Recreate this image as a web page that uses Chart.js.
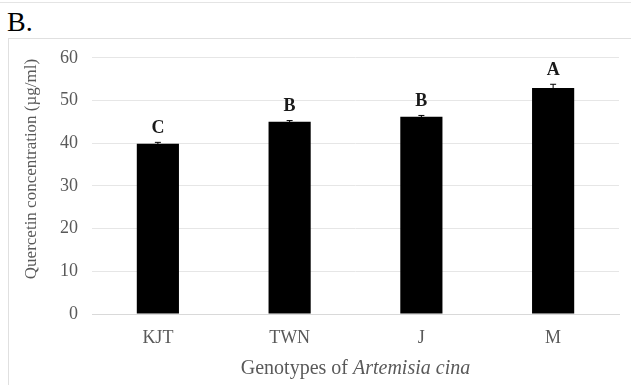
<!DOCTYPE html>
<html>
<head>
<meta charset="utf-8">
<script src="https://cdn.jsdelivr.net/npm/chart.js@4/dist/chart.umd.min.js"></script>
<style>
  body { margin: 0; background: #fff; width: 631px; height: 385px; overflow: hidden; position: relative; }
  #topline { position: absolute; left: 0; top: 2px; width: 631px; height: 1px; background: #e4e4e4; }
  #panel { position: absolute; left: 7px; top: 6px; font-family: "Liberation Serif", "Times New Roman", serif; font-size: 28px; color: #000; }
  #box { position: absolute; left: 8px; top: 38px; width: 623px; height: 347px; border-left: 1px solid #e0e0e0; border-top: 1px solid #e0e0e0; }
  #box canvas { display: block; margin-top: -6px; }
</style>
</head>
<body>
<div id="topline"></div>
<div id="panel">B.</div>
<div id="box"><canvas id="chart" width="622" height="352"></canvas></div>
<script>
const genotypes = ["KJT", "TWN", "J", "M"];
const quercetin = [39.9, 45.0, 46.2, 52.9];
const errors = [0.3, 0.3, 0.3, 0.9];
const letters = ["C", "B", "B", "A"];
const yTicks = [0, 10, 20, 30, 40, 50, 60];

const serif = '"Liberation Serif", "Times New Roman", serif';
const gray = "#595959";

// error bars, significance letters and both axis titles
const annotate = {
    id: "annotate",
    afterDatasetsDraw(chart) {
        const ctx = chart.ctx;
        const x = chart.scales.x;
        const y = chart.scales.y;
        ctx.save();
        genotypes.forEach((g, i) => {
            const cx = x.getPixelForValue(i);
            const top = y.getPixelForValue(quercetin[i] + errors[i]);
            const bot = y.getPixelForValue(quercetin[i] - errors[i]);
            ctx.strokeStyle = "#000";
            ctx.lineWidth = 1;
            ctx.beginPath();
            ctx.moveTo(cx, top); ctx.lineTo(cx, bot);
            ctx.moveTo(cx - 3, top); ctx.lineTo(cx + 3, top);
            ctx.stroke();
            ctx.fillStyle = "#1a1a1a";
            ctx.font = "bold 18px " + serif;
            ctx.textAlign = "center";
            ctx.textBaseline = "bottom";
            ctx.fillText(letters[i], cx, top - 5);
        });

        // x axis title: "Genotypes of " + italic "Artemisia cina"
        const plain = "Genotypes of ";
        const ital = "Artemisia cina";
        ctx.font = "20px " + serif;
        const w1 = ctx.measureText(plain).width;
        ctx.font = "italic 20px " + serif;
        const w2 = ctx.measureText(ital).width;
        const mid = (x.left + x.right) / 2;
        const start = mid - (w1 + w2) / 2;
        const ty = 336;
        ctx.fillStyle = gray;
        ctx.textAlign = "left";
        ctx.textBaseline = "middle";
        ctx.font = "20px " + serif;
        ctx.fillText(plain, start, ty);
        ctx.font = "italic 20px " + serif;
        ctx.fillText(ital, start + w1, ty);

        // y axis title, rotated
        ctx.translate(23, 136);
        ctx.rotate(-Math.PI / 2);
        ctx.textAlign = "center";
        ctx.font = "17px " + serif;
        ctx.fillText("Quercetin concentration (µg/ml)", 0, 0);
        ctx.restore();
    }
};

new Chart(document.getElementById("chart"), {
    type: "bar",
    data: {
        labels: genotypes,
        datasets: [{
            data: quercetin,
            backgroundColor: "#000",
            borderWidth: 0,
            categoryPercentage: 1,
            barPercentage: 0.32
        }]
    },
    options: {
        responsive: false,
        animation: false,
        layout: { padding: { top: 11, right: 12, left: 0, bottom: 0 } },
        plugins: { legend: { display: false }, tooltip: { enabled: false } },
        scales: {
            x: {
                grid: { display: false, drawTicks: false },
                border: { color: "#d9d9d9" },
                ticks: { color: gray, font: { family: serif, size: 18 }, padding: 13 },
                afterFit(s) { s.height = 71; }
            },
            y: {
                min: 0,
                max: 60,
                afterBuildTicks(s) { s.ticks = yTicks.map(v => ({ value: v })); },
                grid: { color: "#e6e6e6", drawTicks: false },
                border: { display: false },
                ticks: { color: gray, font: { family: serif, size: 18 }, padding: 14 },
                afterFit(s) { s.width = 83; }
            }
        }
    },
    plugins: [annotate]
});
</script>
</body>
</html>
